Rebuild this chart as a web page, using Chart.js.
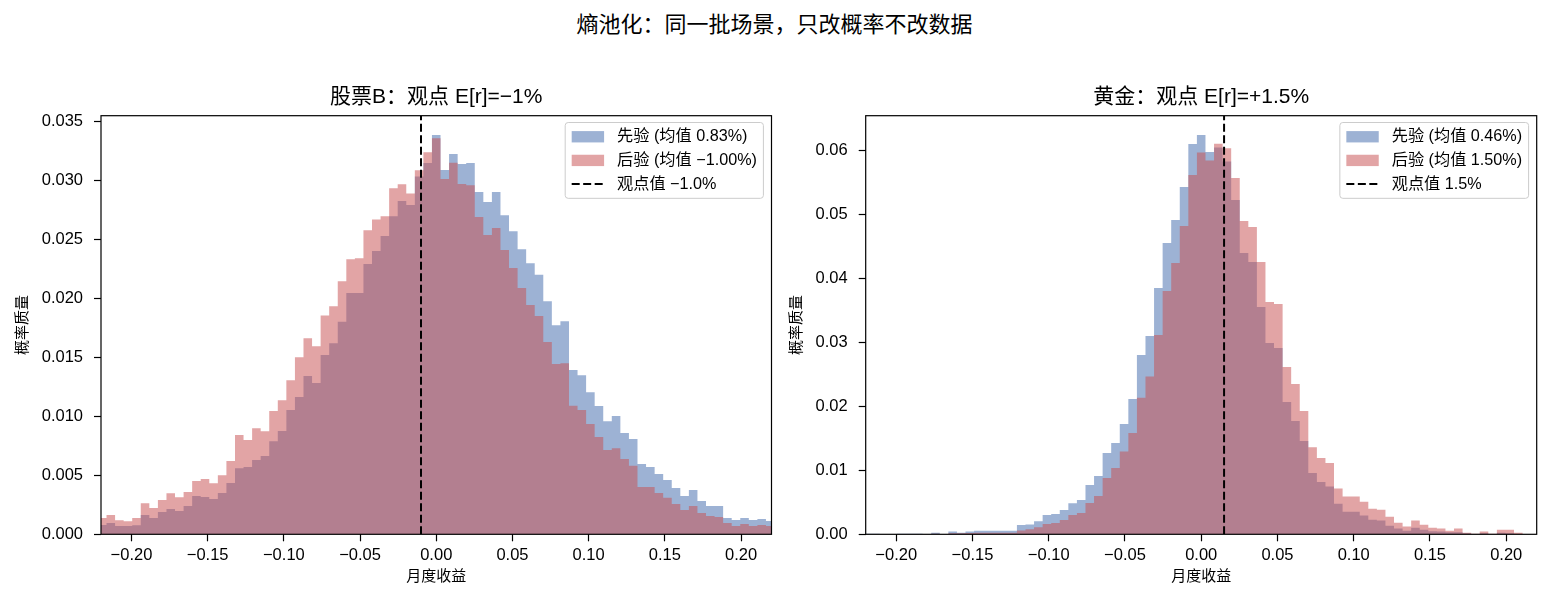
<!DOCTYPE html>
<html>
<head>
<meta charset="utf-8">
<script src="https://cdn.jsdelivr.net/npm/chart.js@4.4.1/dist/chart.umd.min.js"></script>
<style>
  html, body { margin: 0; padding: 0; width: 1549px; height: 603px; overflow: hidden; background: #fff; }
  #sup { position: absolute; left: 0; top: 10px; width: 1549px; text-align: center;
         font-family: "Liberation Sans", "Noto Sans CJK SC", sans-serif; font-size: 22px; line-height: 30px; color: #000; }
  canvas { position: absolute; top: 0; }
</style>
</head>
<body>
<div id="sup">熵池化：同一批场景，只改概率不改数据</div>
<canvas id="stock" width="790" height="603" style="left:0px"></canvas>
<canvas id="gold" width="769" height="603" style="left:780px"></canvas>
<script>
// ---------------- data ----------------
const BIN_START = -0.222;   // left edge of first histogram bin
const BIN_WIDTH = 0.00562;  // histogram bin width
const X_TICKS = [-0.2, -0.15, -0.1, -0.05, 0, 0.05, 0.1, 0.15, 0.2];
const STOCK_Y_TICKS = [0, 0.005, 0.01, 0.015, 0.02, 0.025, 0.03, 0.035];
const GOLD_Y_TICKS = [0, 0.01, 0.02, 0.03, 0.04, 0.05, 0.06];

const STOCK_PRIOR = [0.00079, 0.00096, 0.00071, 0.00071, 0.00076, 0.00164, 0.00138, 0.00189, 0.00215, 0.00198,
  0.00240, 0.00325, 0.00316, 0.00299, 0.00350, 0.00435, 0.00559, 0.00570, 0.00629, 0.00663,
  0.00787, 0.00875, 0.01053, 0.01163, 0.01341, 0.01281, 0.01518, 0.01617, 0.01801, 0.02043,
  0.02043, 0.02289, 0.02399, 0.02526, 0.02693, 0.02822, 0.02789, 0.03031, 0.03144, 0.03381,
  0.03085, 0.03220, 0.03136, 0.03144, 0.02899, 0.02814, 0.02899, 0.02701, 0.02566, 0.02413,
  0.02295, 0.02199, 0.01973, 0.01770, 0.01804, 0.01391, 0.01346, 0.01202, 0.01087, 0.00957,
  0.01002, 0.00858, 0.00807, 0.00596, 0.00570, 0.00511, 0.00460, 0.00392, 0.00325, 0.00375,
  0.00282, 0.00240, 0.00240, 0.00138, 0.00121, 0.00138, 0.00121, 0.00130, 0.00113];
const STOCK_POST = [0.00138, 0.00164, 0.00119, 0.00110, 0.00138, 0.00262, 0.00223, 0.00291, 0.00347, 0.00313,
  0.00358, 0.00452, 0.00469, 0.00432, 0.00500, 0.00621, 0.00841, 0.00799, 0.00898, 0.00872,
  0.01044, 0.01135, 0.01304, 0.01499, 0.01660, 0.01592, 0.01854, 0.01931, 0.02142, 0.02329,
  0.02337, 0.02574, 0.02667, 0.02693, 0.02930, 0.02964, 0.02887, 0.03082, 0.03235, 0.03353,
  0.03009, 0.03147, 0.02966, 0.02955, 0.02687, 0.02535, 0.02594, 0.02408, 0.02255, 0.02086,
  0.01942, 0.01849, 0.01629, 0.01442, 0.01448, 0.01089, 0.01053, 0.00934, 0.00824, 0.00714,
  0.00728, 0.00638, 0.00581, 0.00401, 0.00401, 0.00350, 0.00310, 0.00257, 0.00206, 0.00240,
  0.00181, 0.00155, 0.00147, 0.00096, 0.00071, 0.00087, 0.00071, 0.00079, 0.00071];
const GOLD_PRIOR = [0.0001, 0.0001, 0, 0, 0.0001, 0.0001, 0.0001, 0, 0.00026, 0,
  0.00042, 0.00026, 0.00042, 0.00057, 0.00057, 0.00057, 0.00057, 0.00057, 0.00146, 0.00155,
  0.00205, 0.00302, 0.00318, 0.00380, 0.00484, 0.00536, 0.00771, 0.00911, 0.01271, 0.01427,
  0.01724, 0.02115, 0.02802, 0.03099, 0.03849, 0.04552, 0.04911, 0.05427, 0.06099, 0.06240,
  0.05974, 0.06042, 0.05823, 0.05224, 0.04396, 0.04255, 0.03552, 0.02990, 0.02911, 0.02068,
  0.01771, 0.01458, 0.00958, 0.00818, 0.00745, 0.00479, 0.00354, 0.00354, 0.00292, 0.00229,
  0.00214, 0.00135, 0.00089, 0.00057, 0.00104, 0.00073, 0.00047, 0.00042, 0.00031, 0.00031,
  0.00016, 0.00005, 0.00016, 0.00005, 0.00026, 0.00016, 0, 0, 0];
const GOLD_POST = [0, 0, 0, 0, 0, 0, 0, 0, 0.0001, 0,
  0.00015, 0.00015, 0.0002, 0.00026, 0.00026, 0.00026, 0.00026, 0.00026, 0.0006, 0.0008,
  0.0011, 0.00161, 0.00177, 0.00224, 0.00302, 0.00333, 0.00490, 0.00599, 0.00880, 0.01036,
  0.01292, 0.01583, 0.02135, 0.02464, 0.03115, 0.03802, 0.04240, 0.04818, 0.05615, 0.05964,
  0.05839, 0.06100, 0.06031, 0.05568, 0.04896, 0.04802, 0.04255, 0.03630, 0.03599, 0.02615,
  0.02349, 0.01927, 0.01359, 0.01193, 0.01115, 0.00714, 0.00589, 0.00589, 0.00510, 0.00401,
  0.00385, 0.00276, 0.00182, 0.00120, 0.00214, 0.00151, 0.00104, 0.00089, 0.00057, 0.00089,
  0.00026, 0.00010, 0.00042, 0.00010, 0.00073, 0.00073, 0.00026, 0, 0];

const STOCK_VIEW = -0.01;
const GOLD_VIEW = 0.015;
const STOCK_TITLE = '股票B：观点 E[r]=−1%';
const GOLD_TITLE = '黄金：观点 E[r]=+1.5%';
const STOCK_LABELS = ['先验 (均值 0.83%)', '后验 (均值 −1.00%)', '观点值 −1.0%'];
const GOLD_LABELS = ['先验 (均值 0.46%)', '后验 (均值 1.50%)', '观点值 1.5%'];
const X_LABEL = '月度收益';
const Y_LABEL = '概率质量';

// ---------------- styling ----------------
const FONT = '"Liberation Sans", "Noto Sans CJK SC", sans-serif';
const BLUE = 'rgba(76,114,176,0.55)';
const RED = 'rgba(200,80,82,0.52)';
Chart.defaults.font.family = FONT;
Chart.defaults.color = '#000';

function fmtSigned(v, d) {
  const s = Math.abs(v).toFixed(d);
  return (v < -1e-12 ? '\u2212' : '') + s;
}

function histPoints(vals) {
  const pts = [];
  for (let i = 0; i <= vals.length; i++) {
    pts.push({ x: BIN_START + i * BIN_WIDTH, y: i < vals.length ? vals[i] : 0 });
  }
  return pts;
}

const decor = {
  id: 'mplDecor',
  afterDraw(chart, args, opts) {
    const { ctx, chartArea: ca } = chart;
    ctx.save();
    // axes frame (spines)
    ctx.strokeStyle = '#000';
    ctx.lineWidth = 1.2;
    ctx.strokeRect(ca.left, ca.top, ca.right - ca.left, ca.bottom - ca.top);
    // legend
    const fs = opts.fontSize;
    ctx.font = fs + 'px ' + FONT;
    const items = chart.data.datasets.slice().sort((a, b) => a.legendIndex - b.legendIndex);
    const textW = Math.max(...items.map(it => ctx.measureText(it.label).width));
    const pad = 0.4 * fs, handleL = 2 * fs, htp = 0.8 * fs, rowH = 0.96 * fs, sp = 0.5 * fs;
    const w = pad + handleL + htp + textW + pad;
    const h = 2 * pad + items.length * rowH + (items.length - 1) * sp;
    const x0 = ca.right - 0.5 * fs - w, y0 = ca.top + 0.42 * fs;
    const r = 3;
    ctx.beginPath();
    ctx.moveTo(x0 + r, y0);
    ctx.arcTo(x0 + w, y0, x0 + w, y0 + h, r);
    ctx.arcTo(x0 + w, y0 + h, x0, y0 + h, r);
    ctx.arcTo(x0, y0 + h, x0, y0, r);
    ctx.arcTo(x0, y0, x0 + w, y0, r);
    ctx.closePath();
    ctx.fillStyle = 'rgba(255,255,255,0.8)';
    ctx.fill();
    ctx.strokeStyle = '#cccccc';
    ctx.lineWidth = 1;
    ctx.stroke();
    items.forEach((it, i) => {
      const cy = y0 + pad + rowH / 2 + i * (rowH + sp);
      const hx = x0 + pad;
      if (it.legendKind === 'patch') {
        ctx.fillStyle = it.backgroundColor;
        ctx.fillRect(hx, cy - 0.35 * fs, handleL, 0.7 * fs);
      } else {
        ctx.strokeStyle = it.borderColor;
        ctx.lineWidth = it.borderWidth;
        ctx.setLineDash(it.borderDash || []);
        ctx.beginPath();
        ctx.moveTo(hx, cy);
        ctx.lineTo(hx + handleL, cy);
        ctx.stroke();
        ctx.setLineDash([]);
      }
      ctx.fillStyle = '#000';
      ctx.textBaseline = 'middle';
      ctx.textAlign = 'left';
      ctx.fillText(it.label, hx + handleL + htp, cy);
    });
    ctx.restore();
  }
};

function makeChart(id, cfg) {
  const histDs = (label, vals, color, order, li) => ({
    type: 'line', label, data: histPoints(vals), stepped: true,
    borderWidth: 0, borderColor: 'rgba(0,0,0,0)', backgroundColor: color,
    fill: 'origin', pointRadius: 0, pointHoverRadius: 0, clip: 0,
    order, legendIndex: li, legendKind: 'patch'
  });
  return new Chart(document.getElementById(id), {
    type: 'line',
    data: {
      datasets: [
        histDs(cfg.labels[0], cfg.prior, BLUE, 3, 0),
        histDs(cfg.labels[1], cfg.post, RED, 2, 1),
        {
          type: 'line', label: cfg.labels[2],
          data: [{ x: cfg.view, y: 0 }, { x: cfg.view, y: cfg.yMax }],
          borderColor: '#000', borderWidth: 2, borderDash: [8, 3.5],
          pointRadius: 0, fill: false, order: 1, legendIndex: 2, legendKind: 'line'
        }
      ]
    },
    options: {
      responsive: false, devicePixelRatio: 1, animation: false, events: [],
      layout: { padding: { left: 0, right: cfg.padRight, top: 0, bottom: 0 } },
      plugins: {
        legend: { display: false },
        tooltip: { enabled: false },
        title: {
          display: true, text: cfg.title, fullSize: false,
          font: { size: 21, weight: 'normal' }, color: '#000',
          padding: { top: 84.9, bottom: 5.6 }
        },
        mplDecor: { fontSize: 16.2 }
      },
      scales: {
        x: {
          type: 'linear', min: -0.22, max: 0.22,
          afterBuildTicks: (s) => { s.ticks = X_TICKS.map(v => ({ value: v })); },
          afterFit: (s) => { s.height = 68.7; },
          ticks: { font: { size: 16.5 }, color: '#000', padding: 4, maxRotation: 0,
                   callback: (v) => fmtSigned(v, 2) },
          grid: { display: true, drawOnChartArea: false, drawTicks: true, tickLength: 7,
                  tickColor: '#000', tickWidth: 1.2 },
          border: { display: false },
          title: { display: true, text: X_LABEL, font: { size: 15 }, color: '#000',
                   padding: { top: 0, bottom: 17 } }
        },
        y: {
          type: 'linear', min: 0, max: cfg.yMax,
          afterBuildTicks: (s) => { s.ticks = cfg.yTicks.map(v => ({ value: v })); },
          afterFit: (s) => { s.width = cfg.yWidth; },
          ticks: { font: { size: 16.5 }, color: '#000', padding: 11,
                   callback: (v) => v.toFixed(cfg.yDec) },
          grid: { display: true, drawOnChartArea: false, drawTicks: true, tickLength: 7,
                  tickColor: '#000', tickWidth: 1.2 },
          border: { display: false },
          title: { display: true, text: Y_LABEL, font: { size: 15 }, color: '#000',
                   padding: { top: cfg.yTitlePad, bottom: 0 } }
        }
      }
    },
    plugins: [decor]
  });
}

makeChart('stock', {
  title: STOCK_TITLE, labels: STOCK_LABELS, prior: STOCK_PRIOR, post: STOCK_POST,
  view: STOCK_VIEW, yMax: 0.03545, yTicks: STOCK_Y_TICKS, yDec: 3,
  yWidth: 101, padRight: 18.5, yTitlePad: 13.5
});
makeChart('gold', {
  title: GOLD_TITLE, labels: GOLD_LABELS, prior: GOLD_PRIOR, post: GOLD_POST,
  view: GOLD_VIEW, yMax: 0.0654, yTicks: GOLD_Y_TICKS, yDec: 2,
  yWidth: 85.7, padRight: 12.3, yTitlePad: 8
});
</script>
</body>
</html>
